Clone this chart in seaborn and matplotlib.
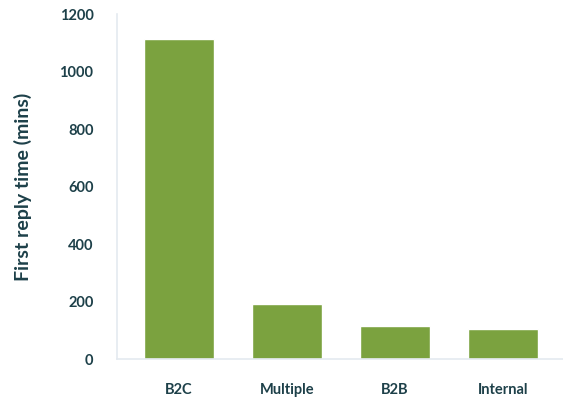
import matplotlib
matplotlib.use("Agg")
import matplotlib.pyplot as plt
import seaborn as sns
import pandas as pd

# Data
categories = ["B2C", "Multiple", "B2B", "Internal"]
reply_mins = [1113, 191, 115, 104]

df = pd.DataFrame({"segment": categories, "mins": reply_mins})

sns.set_style("white")
plt.rcParams["font.family"] = ["Lato", "DejaVu Sans"]

text_col = "#1d4049"
spine_col = "#e4eaf0"

fig = plt.figure(figsize=(5.63, 4.04), dpi=100)
ax = fig.add_axes([0.208, 0.111, 0.792, 0.854])

sns.barplot(data=df, x="segment", y="mins", color="#7ba23f", saturation=1,
            width=0.65, ax=ax)

ax.set_ylim(0, 1200)
ax.set_xlim(-0.574, 3.556)
ax.set_yticks(range(0, 1201, 200))
ax.set_xlabel("")
ax.set_ylabel("First reply time (mins)", fontsize=14, color=text_col,
              fontweight="bold", labelpad=20)

ax.tick_params(axis="both", length=0, labelsize=10.5, labelcolor=text_col)
ax.tick_params(axis="x", pad=17)
ax.tick_params(axis="y", pad=17)
for lbl in ax.get_xticklabels() + ax.get_yticklabels():
    lbl.set_fontweight("bold")

for side in ["top", "right"]:
    ax.spines[side].set_visible(False)
for side in ["left", "bottom"]:
    ax.spines[side].set_color(spine_col)
    ax.spines[side].set_linewidth(1.2)

fig.savefig("out.png", dpi=100)
